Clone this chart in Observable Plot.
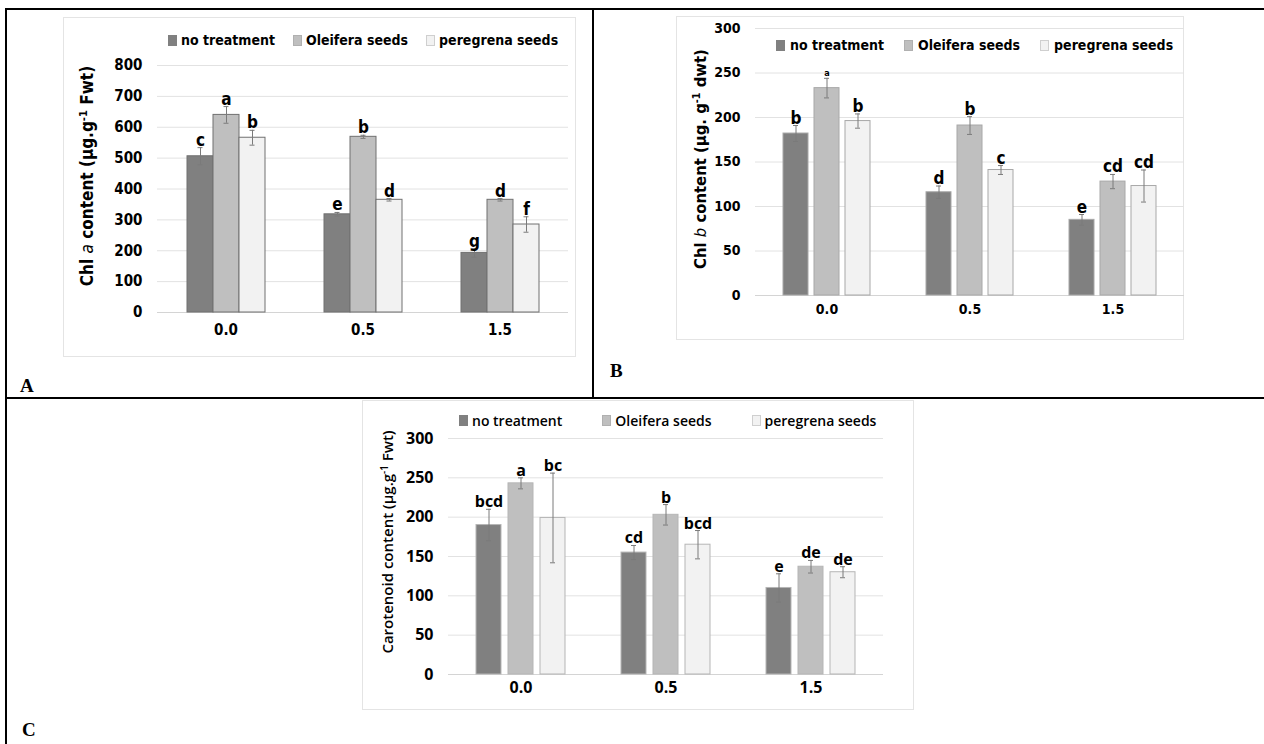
<!DOCTYPE html>
<html>
<head>
<meta charset="utf-8">
<script src="https://cdn.jsdelivr.net/npm/d3@7"></script>
<script src="https://cdn.jsdelivr.net/npm/@observablehq/plot@0.6"></script>
<style>
  body { margin: 0; background: #fff; }
  #page { position: relative; width: 1264px; height: 744px; background: #fff; overflow: hidden; }
  .line { position: absolute; background: #000; }
  .box { position: absolute; border: 1px solid #e4e4e4; box-sizing: border-box; }
  .chart { position: absolute; }
  .legend { position: absolute; display: flex; align-items: center; white-space: nowrap; color: #000; }
  .legend .item { display: flex; align-items: center; }
  .legend .sw { display: inline-block; box-sizing: border-box; }
  .ytitle { position: absolute; white-space: nowrap; transform: translate(-50%, -50%) rotate(-90deg); color: #000; }
  .ytitle sup { font-size: 0.65em; vertical-align: 0.55em; line-height: 0; }
  .plabel { position: absolute; font-family: "Liberation Serif", "DejaVu Serif", serif; font-weight: bold; font-size: 19px; line-height: 1; }
</style>
</head>
<body>
<div id="page">
  <div class="line" style="left:5px;top:8px;width:1259px;height:2px"></div>
  <div class="line" style="left:5px;top:8px;width:2px;height:736px"></div>
  <div class="line" style="left:592px;top:8px;width:2px;height:390px"></div>
  <div class="line" style="left:5px;top:397px;width:1259px;height:2px"></div>
  <div class="plabel" style="left:20px;top:376px">A</div>
  <div class="plabel" style="left:610px;top:361px">B</div>
  <div class="plabel" style="left:22px;top:720px">C</div>
</div>
<script>
// ---------- data ----------
const doses = ["0.0", "0.5", "1.5"];
const treatments = ["no treatment", "Oleifera seeds", "peregrena seeds"];

// Panel A: Chl a content
const chlA_none = [506, 318, 193];
const chlA_oleifera = [640, 569, 365];
const chlA_peregrena = [566, 365, 285];
const chlA_none_err = [28, 6, 14];
const chlA_oleifera_err = [27, 5, 4];
const chlA_peregrena_err = [24, 4, 25];
const chlA_none_letters = ["c", "e", "g"];
const chlA_oleifera_letters = ["a", "b", "d"];
const chlA_peregrena_letters = ["b", "d", "f"];
const chlA_ticks = [0, 100, 200, 300, 400, 500, 600, 700, 800];

// Panel B: Chl b content
const chlB_none = [182, 116, 85];
const chlB_oleifera = [233, 191, 128];
const chlB_peregrena = [196, 141, 123];
const chlB_none_err = [9, 7, 6];
const chlB_oleifera_err = [11, 10, 8];
const chlB_peregrena_err = [8, 5, 18];
const chlB_none_letters = ["b", "d", "e"];
const chlB_oleifera_letters = ["a", "b", "cd"];
const chlB_peregrena_letters = ["b", "c", "cd"];
const chlB_ticks = [0, 50, 100, 150, 200, 250, 300];

// Panel C: Carotenoid content
const car_none = [190, 155, 110];
const car_oleifera = [243, 203, 137];
const car_peregrena = [199, 165, 130];
const car_none_err = [20, 9, 18];
const car_oleifera_err = [7, 13, 8];
const car_peregrena_err = [57, 18, 7];
const car_none_letters = ["bcd", "cd", "e"];
const car_oleifera_letters = ["a", "b", "de"];
const car_peregrena_letters = ["bc", "bcd", "de"];
const car_ticks = [0, 50, 100, 150, 200, 250, 300];

const fills = ["#808080", "#bfbfbf", "#f2f2f2"];
const swatchBorders = ["#808080", "#b0b0b0", "#cfcfcf"];

function rows(series, errs, letters) {
  return doses.flatMap((dose, i) => treatments.map((t, j) => ({
    dose, treatment: t, value: series[j][i], err: errs[j][i], letter: letters[j][i]
  })));
}

const page = document.getElementById("page");

function addPanel(cfg) {
  const box = document.createElement("div");
  box.className = "box";
  Object.assign(box.style, {left: cfg.box[0] + "px", top: cfg.box[1] + "px", width: cfg.box[2] + "px", height: cfg.box[3] + "px"});
  page.appendChild(box);

  const data = rows(cfg.series, cfg.errs, cfg.letters);
  const capInset = cfg.capInset;
  const chart = Plot.plot({
    width: cfg.width, height: cfg.height,
    marginLeft: cfg.margin[0], marginRight: cfg.margin[1], marginTop: cfg.margin[2], marginBottom: cfg.margin[3],
    fx: {domain: doses, padding: 0, label: null},
    x: {domain: treatments, paddingInner: cfg.pInner, paddingOuter: cfg.pOuter, axis: null},
    y: {domain: [0, cfg.ticks[cfg.ticks.length - 1]], label: null},
    color: {domain: treatments, range: fills},
    style: {fontFamily: cfg.font, fontSize: cfg.tickSize + "px", fontWeight: "bold", color: "#000", background: "transparent", fontStretch: cfg.stretch},
    marks: [
      Plot.gridY(cfg.ticks, {stroke: "#e2e2e2", strokeOpacity: 1}),
      Plot.ruleY([0], {stroke: "#d4d4d4"}),
      Plot.barY(data, {fx: "dose", x: "treatment", y: "value", fill: "treatment", stroke: cfg.barStroke, strokeWidth: 1}),
      Plot.ruleX(data, {fx: "dose", x: "treatment", y1: d => d.value - d.err, y2: d => d.value + d.err, stroke: "#7a7a7a", strokeWidth: 1}),
      Plot.tickY(data, {fx: "dose", x: "treatment", y: d => d.value + d.err, insetLeft: capInset, insetRight: capInset, stroke: "#7a7a7a", strokeWidth: 1}),
      Plot.tickY(data, {fx: "dose", x: "treatment", y: d => d.value - d.err, insetLeft: capInset, insetRight: capInset, stroke: "#7a7a7a", strokeWidth: 1}),
      Plot.text(data, {fx: "dose", x: "treatment", y: d => d.value + d.err, text: "letter", lineAnchor: "bottom", dy: -2,
        fontSize: cfg.letterSize, fontWeight: "bold", fill: "#000"}),
      Plot.axisY(cfg.ticks, {tickSize: 0, tickPadding: 15, label: null, fontSize: cfg.tickSize}),
      Plot.axisFx({anchor: "bottom", tickSize: 0, tickPadding: cfg.fxPad, label: null, fontSize: cfg.tickSize})
    ]
  });
  const wrap = document.createElement("div");
  wrap.className = "chart";
  Object.assign(wrap.style, {left: cfg.left + "px", top: cfg.top + "px"});
  wrap.appendChild(chart);
  page.appendChild(wrap);

  // legend
  const lg = document.createElement("div");
  lg.className = "legend";
  Object.assign(lg.style, {left: cfg.legend[0] + "px", top: (cfg.legend[1] - 10) + "px", height: "20px",
    fontFamily: cfg.font, fontSize: cfg.legendSize + "px", fontWeight: cfg.legendWeight, fontStretch: cfg.stretch});
  treatments.forEach((t, j) => {
    const it = document.createElement("div");
    it.className = "item";
    if (j > 0) it.style.marginLeft = cfg.legendGap + "px";
    const sw = document.createElement("span");
    sw.className = "sw";
    Object.assign(sw.style, {width: "9px", height: "11px", background: fills[j], border: "1px solid " + swatchBorders[j], marginRight: cfg.swGap + "px"});
    it.appendChild(sw);
    const tx = document.createElement("span");
    tx.textContent = t;
    it.appendChild(tx);
    lg.appendChild(it);
  });
  page.appendChild(lg);

  // y title
  const yt = document.createElement("div");
  yt.className = "ytitle";
  yt.innerHTML = cfg.ytitle;
  Object.assign(yt.style, {left: cfg.ytitlePos[0] + "px", top: cfg.ytitlePos[1] + "px",
    fontFamily: cfg.font, fontSize: cfg.ytitleSize + "px", fontWeight: cfg.ytitleWeight, fontStretch: cfg.stretch});
  page.appendChild(yt);
}

const AB_FONT = '"DejaVu Sans Condensed", "DejaVu Sans", sans-serif';
const C_FONT = '"Open Sans", "Noto Sans", sans-serif';

addPanel({
  box: [63, 17, 513, 340], left: 63, top: 17, width: 513, height: 340,
  margin: [94, 8, 48, 45], pInner: 0, pOuter: 1.1, capInset: 10.5,
  series: [chlA_none, chlA_oleifera, chlA_peregrena],
  errs: [chlA_none_err, chlA_oleifera_err, chlA_peregrena_err],
  letters: [chlA_none_letters, chlA_oleifera_letters, chlA_peregrena_letters],
  ticks: chlA_ticks, font: AB_FONT, stretch: "condensed", tickSize: 15, letterSize: 17, fxPad: 12,
  barStroke: "#707070",
  legend: [168, 40], legendSize: 14, legendWeight: "bold", legendGap: 18, swGap: 4,
  ytitle: 'Chl <i style="font-weight:normal">a</i> content (µg.g<sup>-1</sup> Fwt)', ytitlePos: [87, 176], ytitleSize: 17, ytitleWeight: "bold"
});

addPanel({
  box: [676, 16, 508, 324], left: 676, top: 16, width: 508, height: 324,
  margin: [78, 0, 12, 45], pInner: 0.206, pOuter: 0.878, capInset: 10,
  series: [chlB_none, chlB_oleifera, chlB_peregrena],
  errs: [chlB_none_err, chlB_oleifera_err, chlB_peregrena_err],
  letters: [chlB_none_letters, chlB_oleifera_letters, chlB_peregrena_letters],
  ticks: chlB_ticks, font: AB_FONT, stretch: "condensed", tickSize: 14, letterSize: d => (d.letter === "a" ? 9 : 17), fxPad: 9,
  barStroke: "#a8a8a8",
  legend: [776, 45], legendSize: 14, legendWeight: "bold", legendGap: 20, swGap: 5,
  ytitle: 'Chl <i style="font-weight:normal">b</i> content (µg. g<sup>-1</sup> dwt)', ytitlePos: [700, 159], ytitleSize: 16.5, ytitleWeight: "bold"
});

addPanel({
  box: [362, 400, 552, 310], left: 362, top: 400, width: 552, height: 310,
  margin: [86, 31, 38, 36], pInner: 0.219, pOuter: 0.875, capInset: 10,
  series: [car_none, car_oleifera, car_peregrena],
  errs: [car_none_err, car_oleifera_err, car_peregrena_err],
  letters: [car_none_letters, car_oleifera_letters, car_peregrena_letters],
  ticks: car_ticks, font: C_FONT, stretch: "normal", tickSize: 16, letterSize: 16, fxPad: 7,
  barStroke: "#b5b5b5",
  legend: [459, 420], legendSize: 14, legendWeight: 600, legendGap: 40, swGap: 4,
  ytitle: 'Carotenoid content (µg.g<sup>-1</sup> Fwt)', ytitlePos: [387, 542], ytitleSize: 15, ytitleWeight: 600
});
</script>
</body>
</html>
